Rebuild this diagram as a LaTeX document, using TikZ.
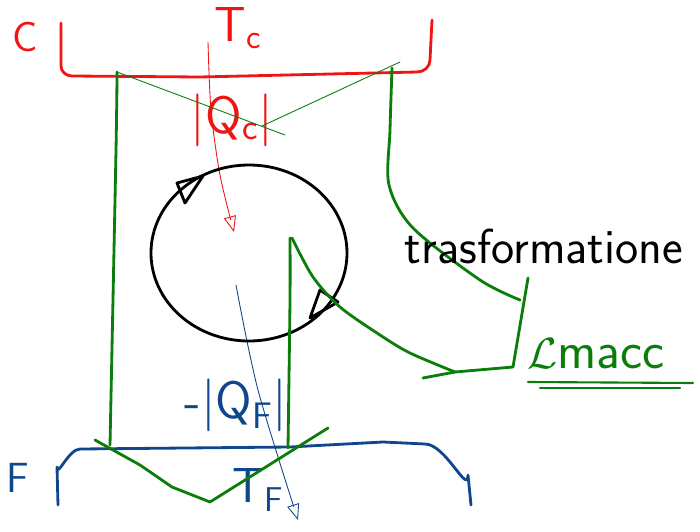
\documentclass[tikz,border=0pt]{standalone}
\usepackage{amsmath,amsfonts}
\usetikzlibrary{arrows.meta}

\definecolor{sketchred}{RGB}{240,20,20}
\definecolor{sketchgreen}{RGB}{10,125,10}
\definecolor{sketchblue}{RGB}{15,70,140}

\begin{document}
\begin{tikzpicture}[
    x=0.02cm, y=-0.02cm,
    stroke/.style={line width=1.6pt, line cap=round, line join=round},
    hairline/.style={line width=0.5pt, line cap=round},
    tip/.style={-{Triangle[open, length=9pt, width=7pt]}},
    lbl/.style={inner sep=0pt, font=\sffamily\fontsize{24}{28}\selectfont},
    biglbl/.style={inner sep=0pt, font=\sffamily\fontsize{30}{34}\selectfont}
]
\useasboundingbox (0,0) rectangle (700,531);

% --- hot reservoir ---
\draw [stroke, sketchred] (61,23) -- (61,66) to[out=-90,in=180] (72,76)
    -- (200,77) -- (417,72) to[out=0,in=-90] (430,60) -- (432,20);
\node (hot) [lbl, sketchred] at (25,37) {C};
\node (thot) [lbl, sketchred, font=\sffamily\fontsize{28}{32}\selectfont] at (238,28) {T\textsubscript{c}};
\node (qhot) [biglbl, sketchred] at (232,120) {|Q\textsubscript{c}|};
\draw [hairline, sketchred, tip] plot[smooth] coordinates {(208,42) (211,110) (220,175) (234,232)};

% --- cold reservoir ---
\draw [stroke, sketchblue] (58,505) -- (57,467) to[out=-90,in=180] (80,449)
    -- (290,447) -- (383,442) -- (425,444) to[out=0,in=-90] (468,475) -- (471,505);
\node (cold) [lbl, sketchblue] at (18,478) {F};
\node (tcold) [lbl, sketchblue, font=\sffamily\fontsize{28}{32}\selectfont] at (258,490) {T\textsubscript{F}};
\node (qcold) [biglbl, sketchblue] at (236,405) {-|Q\textsubscript{F}|};
\draw [hairline, sketchblue, tip] plot[smooth] coordinates {(236,285) (258,390) (298,520)};

% --- cycle ---
\draw [stroke, black] (249,253) ellipse [x radius=98, y radius=88];
\draw [stroke, black] (177,183) -- (203,176) -- (185,203) -- cycle;
\draw [stroke, black] (320,290) -- (338,302) -- (310,318) -- cycle;

% --- green lines ---
\draw [hairline, sketchgreen] (117,72) -- (285,135);
\draw [hairline, sketchgreen] (400,62) -- (262,126);
\draw [stroke, sketchgreen] plot[smooth] coordinates {(117,72) (116,150) (110,445)};
\draw [stroke, sketchgreen] plot[smooth] coordinates {(290,238) (290,300) (288,448)};
\draw [stroke, sketchgreen] (95,440) -- (140,465) -- (172,487) -- (210,502) -- (328,428);
\draw [stroke, sketchgreen] plot[smooth] coordinates {(392,68) (390,130) (389,185) (413,228) (480,280) (520,300)};
\draw [stroke, sketchgreen] (528,278) -- (513,367) -- (455,372) -- (423,378);
\draw [stroke, sketchgreen] plot[smooth] coordinates {(292,238) (313,277) (340,307) (380,335) (410,353) (455,372)};

% --- labels ---
\node (transf) [lbl, black, font=\sffamily\fontsize{28}{32}\selectfont] at (544,246) {trasformatione};
\node (work) [lbl, sketchgreen, font=\sffamily\fontsize{30}{34}\selectfont] at (596,354) {$\mathcal{L}$macc};
\draw [hairline, sketchgreen, line width=1.2pt] (528,382) -- (693,383);
\draw [hairline, sketchgreen, line width=1.2pt] (540,388) -- (680,388);

\end{tikzpicture}
\end{document}
